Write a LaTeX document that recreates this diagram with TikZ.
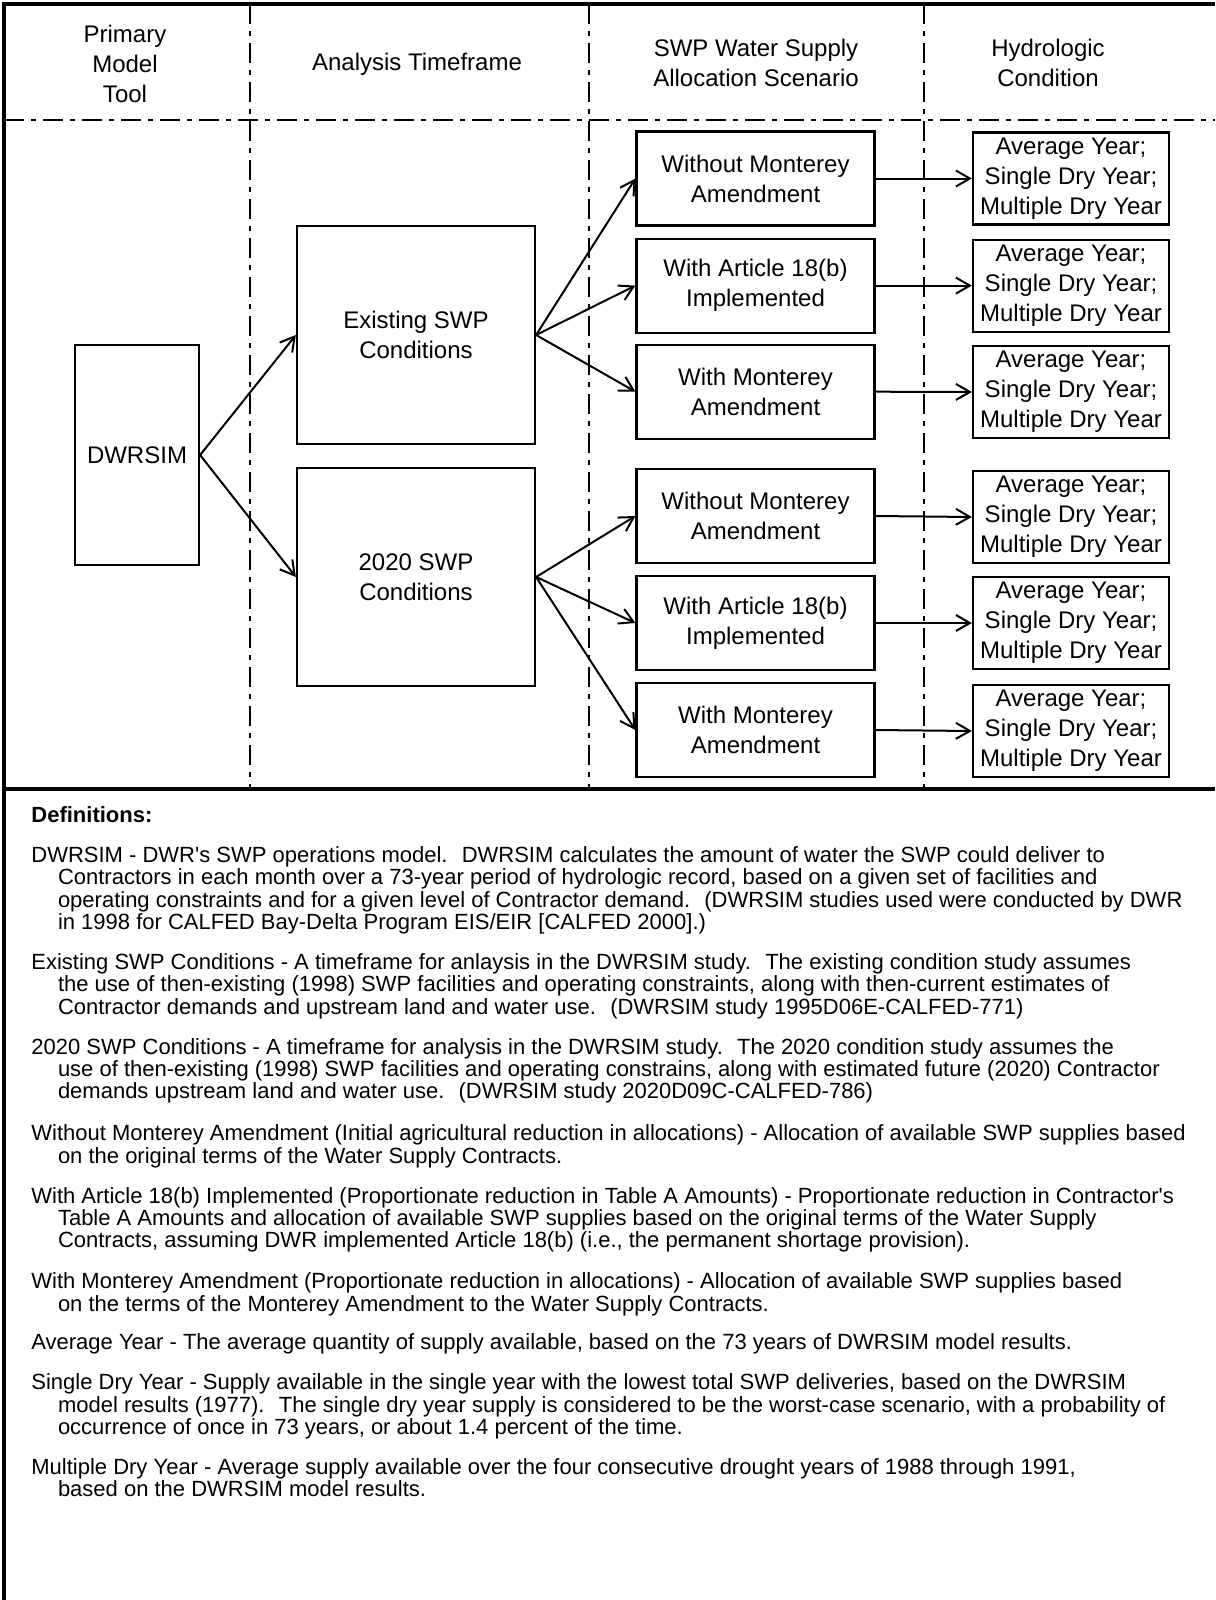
\documentclass[tikz,border=0pt]{standalone}
\usepackage{fontspec}
\setmainfont{Liberation Sans}
\usetikzlibrary{positioning,arrows.meta}
\newcommand{\indentln}{\hspace*{13.3pt}}

\begin{document}
\begin{tikzpicture}[
    x=0.5pt, y=-0.5pt,
    box/.style={rectangle, draw=black, line width=1.1pt, align=center, inner sep=1pt,
                font=\fontsize{12}{15}\selectfont},
    toolbox/.style={box, minimum width=62pt, minimum height=110pt},
    framebox/.style={box, minimum width=119pt, minimum height=109pt},
    scenbox/.style={box, minimum width=119pt, minimum height=47pt},
    hydrobox/.style={box, minimum width=98pt, minimum height=46pt},
    heading/.style={align=center, font=\fontsize{12}{15}\selectfont},
    divider/.style={line width=0.9pt, dash pattern=on 10pt off 3.5pt on 2.5pt off 3.5pt},
    arrow/.style={line width=1pt, -{Straight Barb[length=7pt,width=8pt]}},
    defn/.style={anchor=base west, align=left, inner sep=0pt,
                 font=\fontsize{11}{11.22}\selectfont}
]
\useasboundingbox (0,0) rectangle (1215,1600);

% frame and column dividers
\draw[line width=2pt] (1215,4) -- (4,4) -- (4,1600);
\draw[line width=2pt] (4,789) -- (1215,789);
\draw[divider] (4,120) -- (1215,120);
\foreach \x in {250,589,924}
    \draw[divider] (\x,4) -- (\x,789);

% column headings
\node[heading] (hdtool) at (125,64) {Primary\\Model\\Tool};
\node[heading] (hdframe) at (417,64) {Analysis Timeframe};
\node[heading] (hdscen) at (756,63) {SWP Water Supply\\Allocation Scenario};
\node[heading] (hdhydro) at (1048,63) {Hydrologic\\Condition};

% boxes
\node[toolbox] (dwrsim) at (137,455) {DWRSIM};
\node[framebox] (existing) at (416,335) {Existing SWP\\Conditions};
\node[framebox] (future) at (416,577) {2020 SWP\\Conditions};

\node[scenbox] (scen1) at (755.5,178.5) {Without Monterey\\Amendment};
\node[scenbox] (scen2) at (755.5,285.6) {With Article 18(b)\\Implemented};
\node[scenbox] (scen3) at (755.5,391.7) {With Monterey\\Amendment};
\node[scenbox] (scen4) at (755.5,516) {Without Monterey\\Amendment};
\node[scenbox] (scen5) at (755.5,623) {With Article 18(b)\\Implemented};
\node[scenbox] (scen6) at (755.5,730) {With Monterey\\Amendment};

\node[hydrobox] (hydro1) at (1071,178.5) {Average Year;\\Single Dry Year;\\Multiple Dry Year};
\node[hydrobox] (hydro2) at (1071,285.6) {Average Year;\\Single Dry Year;\\Multiple Dry Year};
\node[hydrobox] (hydro3) at (1071,392) {Average Year;\\Single Dry Year;\\Multiple Dry Year};
\node[hydrobox] (hydro4) at (1071,517) {Average Year;\\Single Dry Year;\\Multiple Dry Year};
\node[hydrobox] (hydro5) at (1071,623) {Average Year;\\Single Dry Year;\\Multiple Dry Year};
\node[hydrobox] (hydro6) at (1071,731) {Average Year;\\Single Dry Year;\\Multiple Dry Year};

% connectors
\draw[arrow] (dwrsim.east) -- (existing.west);
\draw[arrow] (dwrsim.east) -- (future.west);
\draw[arrow] (existing.east) -- (scen1.west);
\draw[arrow] (existing.east) -- (scen2.west);
\draw[arrow] (existing.east) -- (scen3.west);
\draw[arrow] (future.east) -- (scen4.west);
\draw[arrow] (future.east) -- (scen5.west);
\draw[arrow] (future.east) -- (scen6.west);
\draw[arrow] (scen1.east) -- (hydro1.west);
\draw[arrow] (scen2.east) -- (hydro2.west);
\draw[arrow] (scen3.east) -- (hydro3.west);
\draw[arrow] (scen4.east) -- (hydro4.west);
\draw[arrow] (scen5.east) -- (hydro5.west);
\draw[arrow] (scen6.east) -- (hydro6.west);

% definitions (placed at the baseline of their last line)
\node[defn, font=\fontsize{11}{11.22}\bfseries] (defhead) at (31,822.4) {Definitions:};
\node[defn] (defdwrsim) at (31,929.6) {DWRSIM - DWR\textquotesingle s SWP operations model.~ DWRSIM calculates the amount of water the SWP could deliver to\\
    \indentln Contractors in each month over a 73-year period of hydrologic record, based on a given set of facilities and\\
    \indentln operating constraints and for a given level of Contractor demand.~ (DWRSIM studies used were conducted by DWR\\
    \indentln in 1998 for CALFED Bay-Delta Program EIS/EIR [CALFED 2000].)};
\node[defn] (defexisting) at (31,1014.3) {Existing SWP Conditions - A timeframe for anlaysis in the DWRSIM study.~ The existing condition study assumes\\
    \indentln the use of then-existing (1998) SWP facilities and operating constraints, along with then-current estimates of\\
    \indentln Contractor demands and upstream land and water use.~ (DWRSIM study 1995D06E-CALFED-771)};
\node[defn] (deffuture) at (31,1098.9) {2020 SWP Conditions - A timeframe for analysis in the DWRSIM study.~ The 2020 condition study assumes the\\
    \indentln use of then-existing (1998) SWP facilities and operating constrains, along with estimated future (2020) Contractor\\
    \indentln demands upstream land and water use.~ (DWRSIM study 2020D09C-CALFED-786)};
\node[defn] (defwithout) at (31,1163.2) {Without Monterey Amendment (Initial agricultural reduction in allocations) - Allocation of available SWP supplies based\\
    \indentln on the original terms of the Water Supply Contracts.};
\node[defn] (defarticle) at (31,1247.9) {With Article 18(b) Implemented (Proportionate reduction in Table A Amounts) - Proportionate reduction in Contractor\textquotesingle s\\
    \indentln Table A Amounts and allocation of available SWP supplies based on the original terms of the Water Supply\\
    \indentln Contracts, assuming DWR implemented Article 18(b) (i.e., the permanent shortage provision).};
\node[defn] (defwith) at (31,1311.1) {With Monterey Amendment (Proportionate reduction in allocations) - Allocation of available SWP supplies based\\
    \indentln on the terms of the Monterey Amendment to the Water Supply Contracts.};
\node[defn] (defaverage) at (31,1349.9) {Average Year - The average quantity of supply available, based on the 73 years of DWRSIM model results.};
\node[defn] (defsingle) at (31,1434.6) {Single Dry Year - Supply available in the single year with the lowest total SWP deliveries, based on the DWRSIM\\
    \indentln model results (1977).~ The single dry year supply is considered to be the worst-case scenario, with a probability of\\
    \indentln occurrence of once in 73 years, or about 1.4 percent of the time.};
\node[defn] (defmultiple) at (31,1496.8) {Multiple Dry Year - Average supply available over the four consecutive drought years of 1988 through 1991,\\
    \indentln based on the DWRSIM model results.};
\end{tikzpicture}
\end{document}
